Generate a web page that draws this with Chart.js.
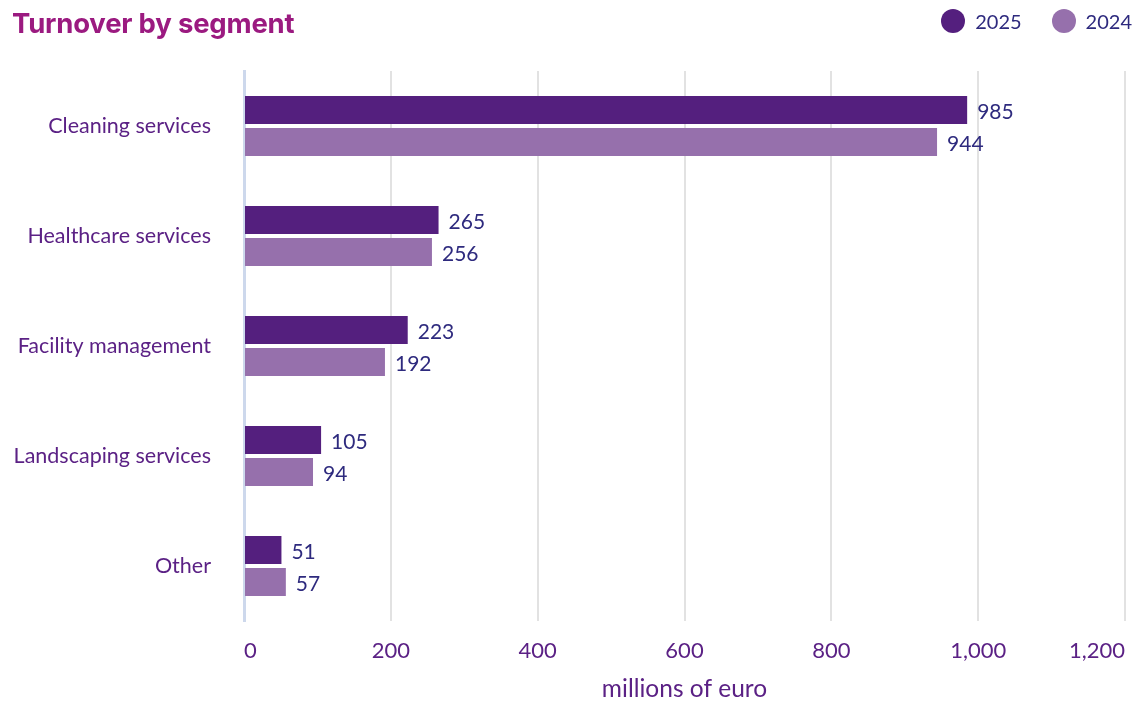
<!DOCTYPE html>
<html>
<head>
<meta charset="utf-8">
<script src="https://cdn.jsdelivr.net/npm/chart.js@4/dist/chart.umd.min.js"></script>
<style>
  html, body { margin: 0; padding: 0; background: #fff; }
  #wrap { position: relative; width: 1145px; height: 704px; }
  #title {
    position: absolute; left: 12px; top: 6px;
    font-family: Inter, Roboto, sans-serif; font-weight: 700; font-size: 27.5px;
    color: #9b1a80; letter-spacing: -0.2px;
  }
  #legend {
    position: absolute; right: 13px; top: 9px;
    font-family: Lato, sans-serif; font-size: 20px; color: #2e2a7e;
    display: flex; align-items: center;
  }
  #legend .item { display: flex; align-items: center; margin-left: 30px; }
  #legend .dot { width: 24px; height: 24px; border-radius: 50%; margin-right: 10px; }
</style>
</head>
<body>
<div id="wrap">
  <canvas id="chart" width="1145" height="704"></canvas>
  <div id="title">Turnover by segment</div>
  <div id="legend"></div>
</div>
<script>
const segments = ['Cleaning services', 'Healthcare services', 'Facility management', 'Landscaping services', 'Other'];
const turnover2025 = [985, 265, 223, 105, 51];
const turnover2024 = [944, 256, 192, 94, 57];
const seriesNames = ['2025', '2024'];
const seriesColors = ['#541f7e', '#9670ac'];

const purple = '#5b2185';
const navy = '#2e2a7e';

// legend in html, top right
const legendEl = document.getElementById('legend');
seriesNames.forEach((name, i) => {
    const item = document.createElement('div');
    item.className = 'item';
    item.innerHTML = '<span class="dot" style="background:' + seriesColors[i] + '"></span>' + name;
    legendEl.appendChild(item);
});

// value labels next to each bar end
const valueLabels = {
    id: 'valueLabels',
    afterDatasetsDraw(chart) {
        const ctx = chart.ctx;
        ctx.save();
        ctx.font = '21px Lato, sans-serif';
        ctx.fillStyle = navy;
        ctx.textAlign = 'left';
        ctx.textBaseline = 'middle';
        chart.data.datasets.forEach((ds, di) => {
            chart.getDatasetMeta(di).data.forEach((bar, i) => {
                ctx.fillText(String(ds.data[i]), bar.x + 10, bar.y + 2);
            });
        });
        ctx.restore();
    },
};

new Chart(document.getElementById('chart'), {
    type: 'bar',
    data: {
        labels: segments,
        datasets: [
            { label: seriesNames[0], data: turnover2025, backgroundColor: seriesColors[0] },
            { label: seriesNames[1], data: turnover2024, backgroundColor: seriesColors[1] },
        ],
    },
    options: {
        indexAxis: 'y',
        responsive: false,
        animation: false,
        categoryPercentage: 0.58,
        barPercentage: 0.88,
        layout: { padding: { top: 71, right: 20, left: 0, bottom: 0 } },
        plugins: {
            legend: { display: false },
            tooltip: { enabled: false },
        },
        scales: {
            x: {
                min: 0,
                max: 1200,
                ticks: {
                    stepSize: 200,
                    align: 'inner',
                    padding: 17,
                    color: purple,
                    font: { family: 'Lato', size: 22 },
                    callback: (v) => v.toLocaleString('en-US'),
                },
                grid: {
                    drawTicks: false,
                    lineWidth: 2,
                    color: (c) => (c.index === 0 ? '#cdd8ec' : '#e2e2e2'),
                },
                border: { display: false },
                title: {
                    display: true,
                    text: 'millions of euro',
                    color: purple,
                    font: { family: 'Lato', size: 24.5 },
                    padding: { top: 0, bottom: 0 },
                },
                afterFit: (s) => { s.height = 83; },
            },
            y: {
                ticks: {
                    padding: 33,
                    color: purple,
                    font: { family: 'Lato', size: 21.5 },
                },
                grid: { display: false, drawTicks: false },
                border: { display: true, color: '#cdd8ec', width: 3 },
                afterFit: (s) => { s.width = 244; },
            },
        },
    },
    plugins: [valueLabels],
});
</script>
</body>
</html>
